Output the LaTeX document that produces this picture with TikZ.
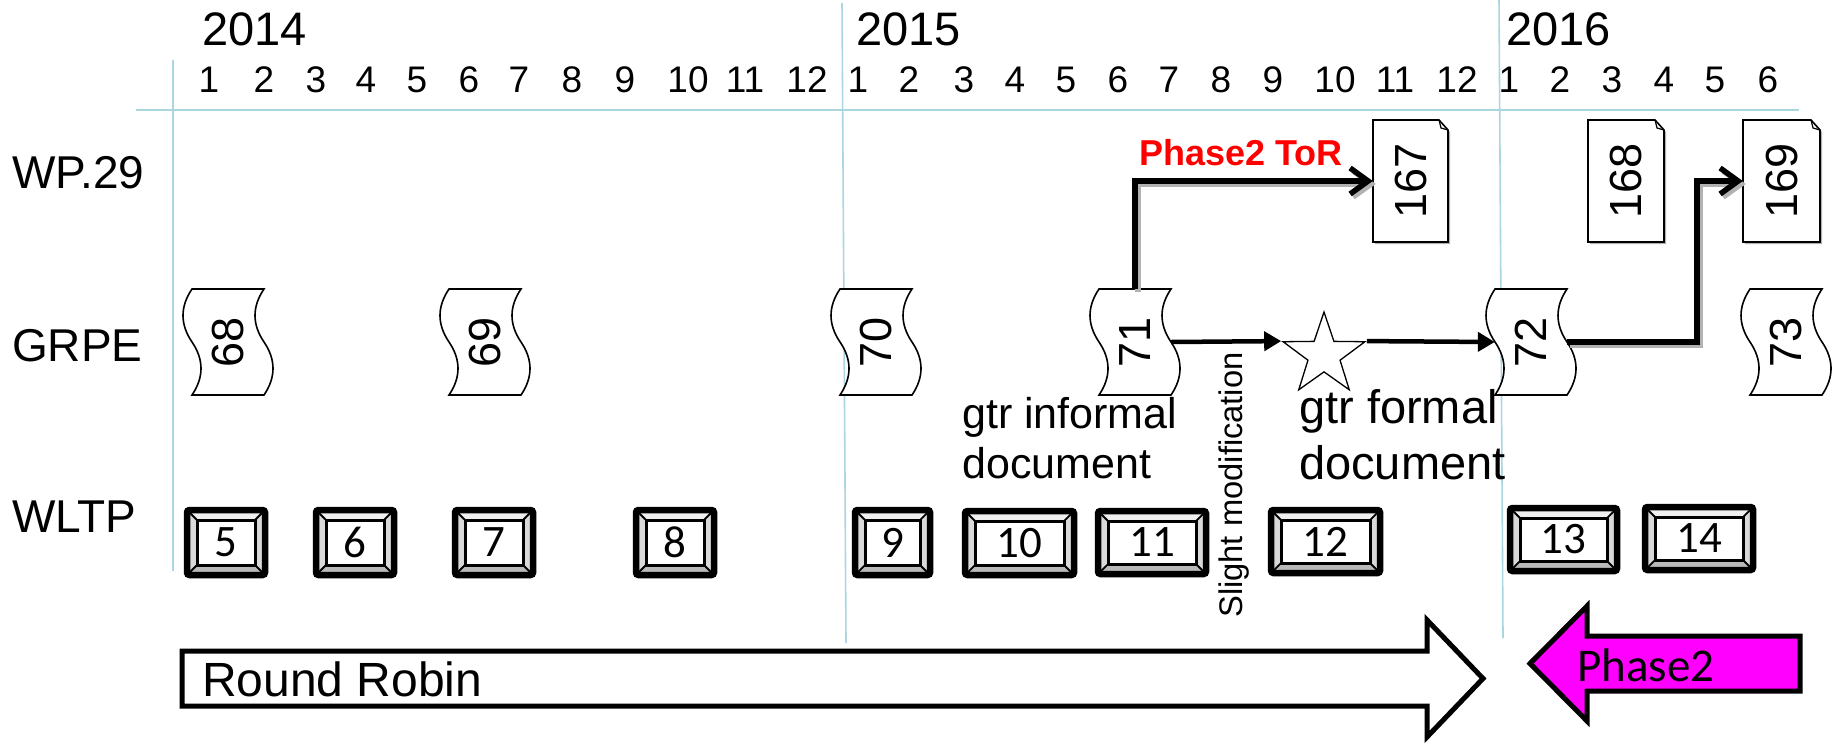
\documentclass[tikz,border=0pt]{standalone}
\usepackage{fontspec}
\setmainfont{Liberation Sans}
\newfontfamily\calfont{Carlito}
\usepackage{graphicx}
\usetikzlibrary{arrows.meta,shapes.geometric}
\definecolor{gridblue}{RGB}{170,214,224}
\definecolor{phasemag}{RGB}{255,0,255}
\tikzset{
  gridline/.style={draw=gridblue, line width=1.6},
  lbl/.style={inner sep=0, anchor=base west, font=\fontsize{46}{55}\selectfont},
  yearlbl/.style={inner sep=0, anchor=base west, font=\fontsize{47}{56}\selectfont},
  monthlbl/.style={inner sep=0, anchor=base, font=\fontsize{37}{44}\selectfont},
  tapeline/.style={draw=black, line width=1.6, fill=white},
  docline/.style={draw=black, line width=1.6, fill=white},
  numtext/.style={font=\fontsize{45}{54}\selectfont},
  bevelnum/.style={inner sep=0, font=\calfont\fontsize{45}{54}\selectfont},
  elbow/.style={line width=5.5, -{Straight Barb[length=18pt,width=26pt]}},
  flowarrow/.style={line width=4.5, -{Triangle[length=17pt,width=19pt]}},
  bigarrow/.style={line width=5, line join=miter},
}
\newcommand\tapedoc[3]{%
  \draw[tapeline] ({#2-36},289) -- ({#2+36},289)
    .. controls ({#2+24},306.7) and ({#2+24},324.3) .. ({#2+36},342)
    .. controls ({#2+48},359.7) and ({#2+48},377.3) .. ({#2+36},395)
    -- ({#2-36},395)
    .. controls ({#2-24},377.3) and ({#2-24},359.7) .. ({#2-36},342)
    .. controls ({#2-48},324.3) and ({#2-48},306.7) .. ({#2-36},289) -- cycle;
  \node[inner sep=0, minimum width=72, minimum height=106, numtext] (#1) at (#2,342) {\raisebox{-4pt}{\rotatebox{90}{#3}}};
}
\newcommand\wpdoc[4]{%
  \fill[black!30, shift={(2,2)}] (#2,120) -- ({#3-9},120) -- (#3,130) -- (#3,242) -- (#2,242) -- cycle;
  \draw[docline] (#2,120) -- ({#3-9},120) -- (#3,130) -- (#3,242) -- (#2,242) -- cycle;
  \draw[line width=1.2] ({#3-9},120) -- ({#3-7},128) -- (#3,130);
  \node[inner sep=0, minimum width={#3-#2}, minimum height=122, numtext] (#1) at ({(#2+#3)/2},181) {\rotatebox{90}{#4}};
}
\newcommand\bevelbox[6]{%
  \pgfmathsetmacro\bxA{#2+3}\pgfmathsetmacro\bxB{#3-3}%
  \pgfmathsetmacro\byA{#4+3}\pgfmathsetmacro\byB{#5-3}%
  \pgfmathsetmacro\bxa{#2+13}\pgfmathsetmacro\bxb{#3-13}%
  \pgfmathsetmacro\bya{#4+13}\pgfmathsetmacro\byb{#5-13}%
  \fill[gray!12] (\bxA,\byA) -- (\bxB,\byA) -- (\bxb,\bya) -- (\bxa,\bya) -- cycle;
  \fill[gray!55] (\bxA,\byB) -- (\bxB,\byB) -- (\bxb,\byb) -- (\bxa,\byb) -- cycle;
  \fill[gray!30] (\bxA,\byA) -- (\bxa,\bya) -- (\bxa,\byb) -- (\bxA,\byB) -- cycle;
  \fill[gray!30] (\bxB,\byA) -- (\bxb,\bya) -- (\bxb,\byb) -- (\bxB,\byB) -- cycle;
  \draw[line width=1.8] (\bxA,\byA) -- (\bxa,\bya) (\bxB,\byA) -- (\bxb,\bya)
        (\bxA,\byB) -- (\bxa,\byb) (\bxB,\byB) -- (\bxb,\byb);
  \draw[line width=3, fill=white] (\bxa,\bya) rectangle (\bxb,\byb);
  \draw[line width=6.5, rounded corners=2.5] (\bxA,\byA) rectangle (\bxB,\byB);
  \node[bevelnum] (#1) at ({(#2+#3)/2},{(#4+#5)/2}) {#6};
}
\begin{document}
\begin{tikzpicture}[x=1pt, y=-1pt]
\useasboundingbox (0,0) rectangle (1835,742);
\fill[white] (0,0) rectangle (1835,742);
% grid
\draw[gridline] (136,110) -- (1799,110);
\draw[gridline] (173,60) -- (173,571);
\draw[gridline] (842,3) -- (846,643);
\draw[gridline] (1499,0) -- (1503,638);
% years
\node[yearlbl] (y2014) at (202,45) {2014};
\node[yearlbl] (y2015) at (856,45) {2015};
\node[yearlbl] (y2016) at (1506,45) {2016};
% months
\foreach \mx/\ml [count=\i] in {209/1,264/2,316/3,366/4,417/5,469/6,519/7,572/8,625/9,688/10,745/11,807/12,
  858/1,909/2,964/3,1015/4,1066/5,1118/6,1169/7,1221/8,1273/9,1335/10,1395/11,1457/12,
  1509/1,1560/2,1612/3,1664/4,1715/5,1768/6}
  \node[monthlbl] (m\i) at (\mx,92) {\ml};
% row labels
\node[lbl] (wp) at (12,188) {WP.29};
\node[lbl] (grpe) at (12,361) {GRPE};
\node[lbl] (wltp) at (12,532) {WLTP};
% GRPE tapes
\tapedoc{g68}{228}{68}
\tapedoc{g69}{485}{69}
\tapedoc{g70}{876}{70}
\tapedoc{g71}{1135}{71}
\tapedoc{g72}{1531}{72}
\tapedoc{g73}{1786}{73}
% WP.29 documents
\wpdoc{d167}{1373}{1448}{167}
\wpdoc{d168}{1588}{1664}{168}
\wpdoc{d169}{1743}{1820}{169}
% star
\node[star, star points=5, star point ratio=2.55, draw, line width=1.3, fill=white,
      minimum size=86, inner sep=0] (star) at (1324,355) {};
% texts
\node[anchor=north west, inner sep=0, align=left, font=\fontsize{43}{50}\selectfont] (informal) at (962,397) {gtr informal\\document};
\node[anchor=north west, inner sep=0, align=left, font=\fontsize{47}{56}\selectfont] (formal) at (1299,389) {gtr formal\\document};
\node[rotate=90, inner sep=0, font=\fontsize{32.7}{39}\selectfont] (slight) at (1234,485) {Slight modification};
\node[anchor=base west, inner sep=0, text=red, font=\bfseries\fontsize{36}{43}\selectfont] (tor) at (1139,165) {Phase2 ToR};
% WLTP boxes
\bevelbox{w5}{184}{268}{507}{578}{5}
\bevelbox{w6}{313}{397}{507}{578}{6}
\bevelbox{w7}{452}{536}{507}{578}{7}
\bevelbox{w8}{633}{717}{507}{578}{8}
\bevelbox{w9}{852}{933}{507}{578}{9}
\bevelbox{w10}{962}{1077}{508}{578}{10}
\bevelbox{w11}{1095}{1209}{508}{577}{11}
\bevelbox{w12}{1268}{1383}{507}{576}{12}
\bevelbox{w13}{1507}{1620}{505}{574}{13}
\bevelbox{w14}{1642}{1756}{504}{573}{14}
% big arrows
\draw[bigarrow, fill=white] (182,651) -- (1427,651) -- (1427,620) -- (1483,678.5) -- (1427,737) -- (1427,706) -- (182,706) -- cycle;
\node[anchor=base west, inner sep=0, font=\fontsize{48}{58}\selectfont] (rr) at (202,696) {Round Robin};
\draw[bigarrow, fill=phasemag] (1800,636) -- (1587,636) -- (1587,606) -- (1530,663.5) -- (1587,721) -- (1587,691) -- (1800,691) -- cycle;
\node[anchor=base west, inner sep=0, font=\calfont\fontsize{47}{56}\selectfont] (ph2) at (1577,681) {Phase2};
% connectors
\coordinate (bend) at (1697,342);
\begin{scope}[transform canvas={xshift=3pt, yshift=-3pt}]
  \draw[elbow, draw=black!30] (g71.north) |- (d167.west);
  \draw[elbow, draw=black!30] (g72.east) -- (bend) |- (d169.west);
\end{scope}
\draw[elbow] (g71.north) |- (d167.west);
\draw[elbow] (g72.east) -- (bend) |- (d169.west);
\draw[flowarrow] (g71.east) -- (star.outer point 2);
\draw[flowarrow] (star.outer point 5) -- (g72.west);
\end{tikzpicture}
\end{document}
